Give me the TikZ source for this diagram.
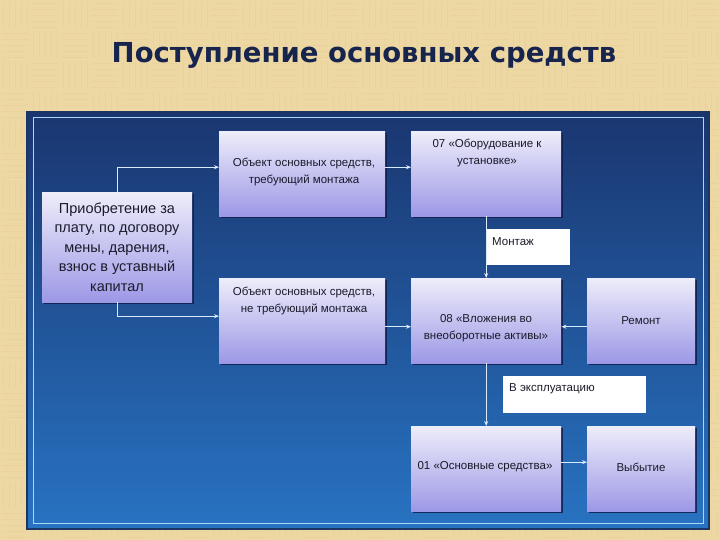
\documentclass[tikz,border=0pt]{standalone}
\usepackage{fontspec}
\setmainfont{Liberation Sans}
\newfontfamily\titlefont{DejaVu Sans}
\usetikzlibrary{shadows,arrows.meta,calc}
\definecolor{bgc}{HTML}{EDD7A2}
\definecolor{bgline}{HTML}{D9BE82}
\definecolor{titlec}{HTML}{16244E}
\definecolor{pantop}{HTML}{1A3670}
\definecolor{panbot}{HTML}{2873C2}
\definecolor{panedge}{HTML}{1B3566}
\definecolor{panline}{HTML}{A8D8F4}
\definecolor{boxtop}{HTML}{EEEDFA}
\definecolor{boxbot}{HTML}{9C98E6}
\definecolor{shadc}{HTML}{0E1E4A}
\definecolor{txtc}{HTML}{1A1A2A}
\definecolor{arrc}{HTML}{DCEBFA}
\tikzset{
  box/.style={rectangle, inner sep=0pt, anchor=north west, top color=boxtop, bottom color=boxbot,
    drop shadow={shadow xshift=1.8pt, shadow yshift=-1.8pt, fill=shadc, opacity=0.85}},
  tagbox/.style={rectangle, inner sep=0pt, anchor=north west, fill=white},
  txt/.style={text=txtc, font=\fontsize{11.5}{17}\selectfont, align=center, inner sep=0pt},
  bigtxt/.style={text=txtc, font=\fontsize{14.5}{19.5}\selectfont, align=center, inner sep=0pt},
  conn/.style={draw=arrc, line width=0.8pt, -{Stealth[length=5pt,width=4pt]}},
  weave/.style={draw=bgline, line width=0.5pt, opacity=0.2}
}
\begin{document}
\begin{tikzpicture}[x=1pt,y=-1pt]
\useasboundingbox (0,0) rectangle (720,540);
\fill[bgc] (0,0) rectangle (720,540);
% background weave texture
\foreach \i in {0,...,23}{
  \foreach \j in {0,...,17}{
    \pgfmathtruncatemacro{\wpar}{mod(\i+\j,2)}
    \ifnum\wpar=0
      \foreach \k in {3,9,15,21,27}{\draw[weave] (\i*30+\k,\j*30+2) -- (\i*30+\k,\j*30+28);}
    \else
      \foreach \k in {3,9,15,21,27}{\draw[weave] (\i*30+2,\j*30+\k) -- (\i*30+28,\j*30+\k);}
    \fi
  }
}
% title
\node[text=titlec, font=\titlefont\bfseries\fontsize{27.5}{32}\selectfont, inner sep=0pt] (title) at (364,55) {Поступление основных средств};
% panel
\fill[top color=pantop, bottom color=panbot] (27,112) rectangle (709,529);
\draw[panedge, line width=1.5pt] (27,112) rectangle (709,529);
\draw[panline, line width=0.8pt] (33,117) rectangle (703,523);
% boxes
\node[box, minimum width=150pt, minimum height=110pt] (L) at (42,192) {};
\node[box, minimum width=166pt, minimum height=85pt] (A) at (219,131) {};
\node[box, minimum width=166pt, minimum height=85pt] (B) at (219,278) {};
\node[box, minimum width=150pt, minimum height=85pt] (C) at (411,131) {};
\node[box, minimum width=150pt, minimum height=85pt] (D) at (411,278) {};
\node[box, minimum width=108pt, minimum height=85pt] (E) at (587,278) {};
\node[box, minimum width=150pt, minimum height=85pt] (F) at (411,426) {};
\node[box, minimum width=108pt, minimum height=85pt] (G) at (587,426) {};
\node[tagbox, minimum width=84pt, minimum height=36pt] (M) at (486,229) {};
\node[tagbox, minimum width=143pt, minimum height=37pt] (X) at (503,376) {};
% texts
\node[bigtxt] (Lt) at (117,247) {Приобретение за\\плату, по договору\\мены, дарения,\\взнос в уставный\\капитал};
\node[txt] (At) at (304,172) {Объект основных средств,\\требующий монтажа};
\node[txt] (Bt) at (304,301) {Объект основных средств,\\не требующий монтажа};
\node[txt] (Ct) at (487,153) {07 «Оборудование к\\установке»};
\node[txt] (Dt) at (486,328) {08 «Вложения во\\внеоборотные активы»};
\node[txt] (Et) at (641,321) {Ремонт};
\node[txt] (Ft) at (485,467) {01 «Основные средства»};
\node[txt] (Gt) at (641,467) {Выбытие};
\node[txt, anchor=west] (Mt) at (492,242) {Монтаж};
\node[txt, anchor=west] (Xt) at (509,389) {В эксплуатацию};
% connectors
\draw[conn] (L.north) |- ([yshift=6.5pt]A.west);
\draw[conn] (L.south) |- ([yshift=4.5pt]B.west);
\draw[conn] ([yshift=6.5pt]A.east) -- ([yshift=6.5pt]C.west);
\draw[conn] (C.south) -- (D.north);
\draw[conn] ([yshift=-6pt]B.east) -- ([yshift=-6pt]D.west);
\draw[conn] ([yshift=-6pt]E.west) -- ([yshift=-6pt]D.east);
\draw[conn] (D.south) -- (F.north);
\draw[conn] ([yshift=6.5pt]F.east) -- ([yshift=6.5pt]G.west);
\end{tikzpicture}
\end{document}
